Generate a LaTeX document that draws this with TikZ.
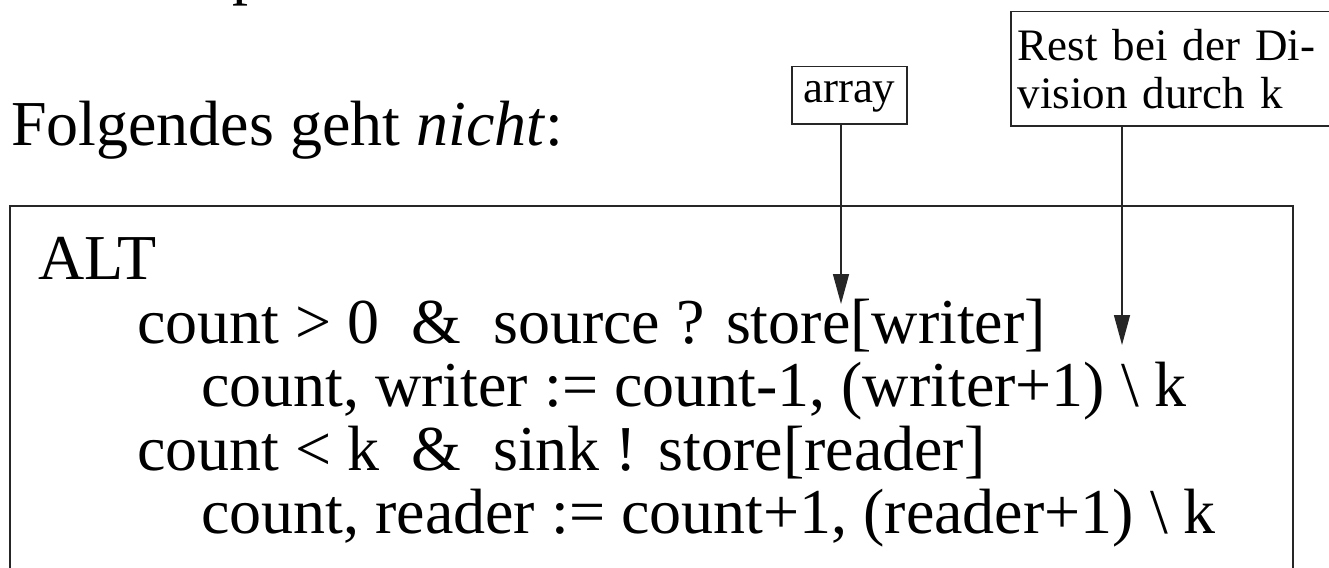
\documentclass[tikz,border=0pt]{standalone}
\usepackage{fontspec}
\setmainfont{Liberation Serif}
\usetikzlibrary{arrows.meta}
\begin{document}
\begin{tikzpicture}[x=1pt,y=-1pt,
  big/.style={font=\fontsize{64}{64}\selectfont, inner sep=0pt, anchor=base west},
  small/.style={font=\fontsize{45}{48}\selectfont},
  frame/.style={draw=black!85, line width=1.5pt},
  pointer/.style={draw=black!85, line width=1.5pt, -{Triangle[length=30pt,width=16pt]}}]
\useasboundingbox (0,0) rectangle (1329,567);

% tail of the line above
\node[big] (frag) at (232,-7) {p};

% heading
\node[big] (title) at (11,145) {Folgendes geht \textit{nicht}:};

% callouts
\node[frame, small, inner sep=0pt, minimum width=115pt, text height=36pt,
      text depth=21pt, anchor=north west] (arr) at (791,66) {array};
\node[frame, small, anchor=north west, minimum height=114pt, inner xsep=7pt,
      inner ysep=0pt, align=left, text width=326pt] (rest) at (1010,11)
      {Rest bei der Di-\\vision durch k};

% program frame
\node[frame, anchor=north west, minimum width=1283pt, minimum height=400pt,
      inner sep=0pt] (prog) at (9,205) {};

% program text
\node[big] (alt) at (38,279) {ALT};
\node[big] (g1) at (137,343) {count > 0\ \ \&\ \ source ? store[writer]};
\node[big] (a1) at (201,406) {count, writer := count-1, (writer+1) \textbackslash\ k};
\node[big] (g2) at (137,470) {count < k\ \ \&\ \ sink ! store[reader]};
\node[big] (a2) at (201,533) {count, reader := count+1, (reader+1) \textbackslash\ k};

% pointers
\coordinate (t1) at (841,304);
\coordinate (t2) at (1122,345);
\draw[pointer] (arr.south -| t1) -- (t1);
\draw[pointer] (rest.south -| t2) -- (t2);
\end{tikzpicture}
\end{document}
